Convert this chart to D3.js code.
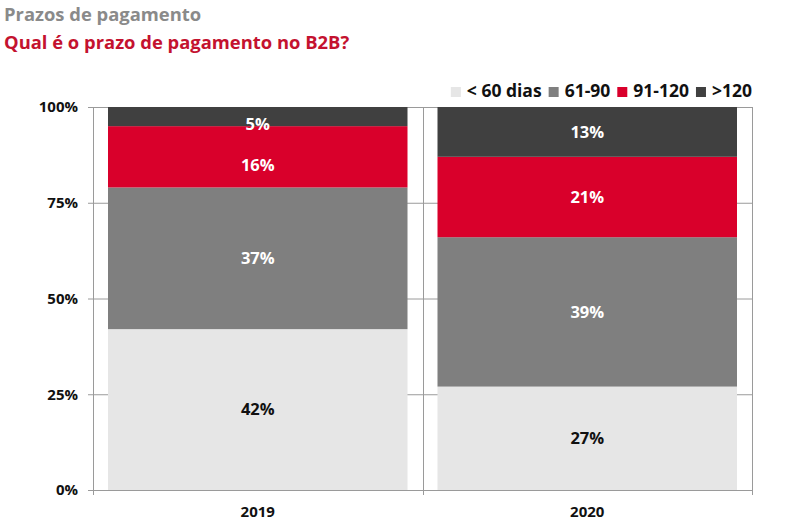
<!DOCTYPE html>
<html><head><meta charset="utf-8">
<script src="https://cdn.jsdelivr.net/npm/d3@7"></script>
<style>
body{margin:0;background:#fff;}
svg{display:block;font-family:"Open Sans",sans-serif;}
</style></head>
<body>
<svg id="c" width="800" height="521"></svg>
<script>
const years = ["2019", "2020"];
const seriesNames = ["< 60 dias", "61-90", "91-120", ">120"];
const lt60 = [42, 27];
const d61_90 = [37, 39];
const d91_120 = [16, 21];
const gt120 = [5, 13];
const yTicks = [0, 25, 50, 75, 100];
const colors = ["#e6e6e6", "#7f7f7f", "#d9002b", "#404040"];
const labelColors = ["#111", "#fff", "#fff", "#fff"];

const rows = years.map((y, i) => ({year: y, "< 60 dias": lt60[i], "61-90": d61_90[i], "91-120": d91_120[i], ">120": gt120[i]}));
const stack = d3.stack().keys(seriesNames)(rows);

const svg = d3.select("#c");
const L = 93, R = 752, T = 107, B = 490;
const x = d3.scaleBand().domain(years).range([L, R]).padding(0);
const y = d3.scaleLinear().domain([0, 100]).range([B, T]);
const inset = 15;

// titles
svg.append("text").attr("x", 4).attr("y", 21).attr("fill", "#8a8a8a")
  .attr("font-size", 18.4).attr("font-weight", 700).text("Prazos de pagamento");
svg.append("text").attr("x", 4).attr("y", 49).attr("fill", "#c4122f")
  .attr("font-size", 18.4).attr("font-weight", 700).text("Qual é o prazo de pagamento no B2B?");

// gridlines
const grid = svg.append("g");
grid.selectAll("line.h").data(yTicks).join("line")
  .attr("x1", L - 5).attr("x2", R).attr("y1", d => y(d) + 0.5).attr("y2", d => y(d) + 0.5)
  .attr("stroke", "#9a9a9a").attr("stroke-width", 1);
const vx = [L, ...years.slice(1).map(d => x(d)), R];
grid.selectAll("line.v").data(vx).join("line")
  .attr("x1", d => Math.round(d) + 0.5).attr("x2", d => Math.round(d) + 0.5)
  .attr("y1", T).attr("y2", B + 5).attr("stroke", "#9a9a9a").attr("stroke-width", 1);

// bars
const nudge = {"2019": {">120": 8, "91-120": 8}};
const gs = svg.append("g").selectAll("g").data(stack).join("g").attr("fill", (d, i) => colors[i]);
gs.selectAll("rect").data(d => d).join("rect")
  .attr("x", d => x(d.data.year) + inset)
  .attr("width", x.bandwidth() - 2 * inset)
  .attr("y", d => y(d[1]))
  .attr("height", d => y(d[0]) - y(d[1]));

// labels
stack.forEach((s, i) => {
  svg.append("g").selectAll("text").data(s).join("text")
    .attr("x", d => x(d.data.year) + x.bandwidth() / 2)
    .attr("y", d => (y(d[0]) + y(d[1])) / 2 + ((nudge[d.data.year] || {})[s.key] || 0))
    .attr("dy", "0.35em").attr("text-anchor", "middle")
    .attr("font-size", 16.5).attr("font-weight", 700).attr("fill", labelColors[i])
    .text(d => (d[1] - d[0]) + "%");
});

// y tick labels
svg.append("g").selectAll("text").data(yTicks).join("text")
  .attr("x", 78).attr("y", d => y(d)).attr("dy", "0.35em").attr("text-anchor", "end")
  .attr("font-size", 15).attr("font-weight", 700).attr("fill", "#111")
  .text(d => d + "%");

// x labels
svg.append("g").selectAll("text").data(years).join("text")
  .attr("x", d => x(d) + x.bandwidth() / 2).attr("y", 517).attr("text-anchor", "middle")
  .attr("font-size", 15).attr("font-weight", 700).attr("fill", "#111")
  .text(d => d);

// legend, right aligned at R
const lg = svg.append("g");
const items = seriesNames.map((n, i) => {
  const g = lg.append("g");
  g.append("rect").attr("width", 10).attr("height", 10).attr("y", 87).attr("fill", colors[i]);
  const t = g.append("text").attr("x", 16).attr("y", 97).attr("font-size", 17.5)
    .attr("font-weight", 700).attr("fill", "#111").text(n);
  return {g, w: 16 + t.node().getComputedTextLength()};
});
const gap = 7;
const total = d3.sum(items, d => d.w) + gap * (items.length - 1);
let cx = R - total;
items.forEach(it => { it.g.attr("transform", `translate(${cx},0)`); cx += it.w + gap; });
</script>
</body></html>
